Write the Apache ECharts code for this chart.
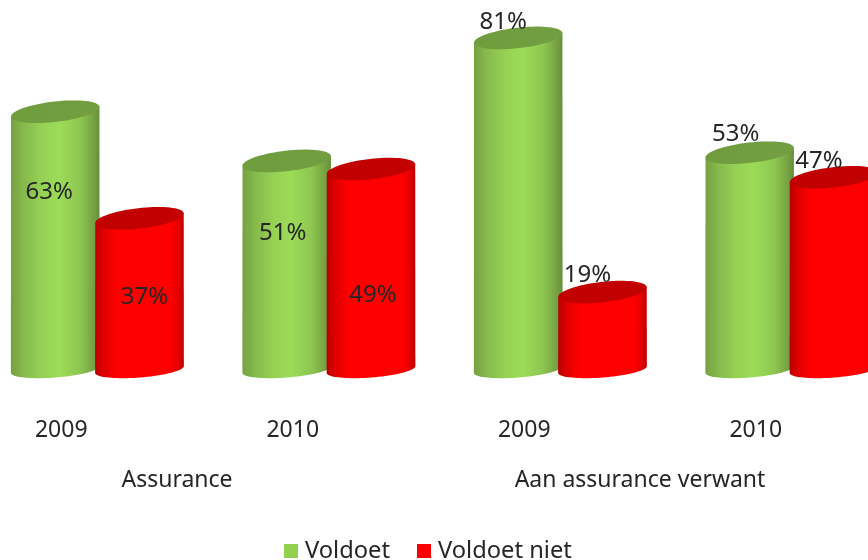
<!DOCTYPE html>
<html>
<head>
<meta charset="utf-8">
<style>html,body{margin:0;padding:0;background:#fff}#c{width:868px;height:560px}</style>
<script src="https://cdn.jsdelivr.net/npm/echarts@6/dist/echarts.min.js"></script>
</head>
<body>
<div id="c"></div>
<script>
const years = ['2009', '2010', '2009', '2010'];
const groups = ['Assurance', 'Aan assurance verwant'];
const voldoet = [63, 51, 81, 53];
const voldoetNiet = [37, 49, 19, 47];
const voldoetLabelShift = [[-6, 80], [-4, 72], [-15, -16], [-14, -19]];
const voldoetNietLabelShift = [[5, 79], [2, 126], [-15, -17], [-15, -16]];

const FONT = '"Noto Sans", sans-serif';
const TEXT = '#262626';
const RX = 44.5, TOP_RY = 10.2, BOT_RY = 8;
const TOP_TILT = 6.5 * Math.PI / 180, BOT_TILT = 4.5 * Math.PI / 180;

function ellipsePoint(cx, cy, ry, tilt, t) {
  const ex = RX * Math.cos(t), ey = ry * Math.sin(t);
  return [cx + ex * Math.cos(tilt) + ey * Math.sin(tilt),
          cy - ex * Math.sin(tilt) + ey * Math.cos(tilt)];
}
function arc(cx, cy, ry, tilt, from, to, n) {
  const out = [];
  for (let i = 0; i <= n; i++) out.push(ellipsePoint(cx, cy, ry, tilt, from + (to - from) * i / n));
  return out;
}
function cylinder(palette, shifts) {
  return function (params, api) {
    const idx = api.value(0), val = api.value(1);
    const c = api.coord([idx, val]);
    const base = api.coord([idx, 0]);
    const catW = api.size([1, 0])[0];
    const x = c[0] + catW * palette.slot;
    const topY = c[1], botY = base[1] - 0.5;
    const body = [].concat(
      [ellipsePoint(x, topY, TOP_RY, TOP_TILT, Math.PI)],
      arc(x, botY, BOT_RY, BOT_TILT, Math.PI, 0, 40),
      [ellipsePoint(x, topY, TOP_RY, TOP_TILT, 0)]
    );
    const top = arc(x, topY, TOP_RY, TOP_TILT, 0, Math.PI * 2, 72);
    const s = shifts[params.dataIndex];
    return {
      type: 'group',
      children: [
        { type: 'polygon', shape: { points: body }, style: { fill: {
            type: 'linear', x: 0, y: 0, x2: 1, y2: 0,
            colorStops: palette.stops } } },
        { type: 'polygon', shape: { points: top }, style: { fill: {
            type: 'linear', x: 0, y: 0, x2: 1, y2: 1,
            colorStops: palette.topStops } } },
        { type: 'text', z2: 10, style: {
            text: val + '%', x: x + s[0], y: topY + s[1],
            align: 'center', verticalAlign: 'middle',
            font: '24px ' + FONT, fill: TEXT } }
      ]
    };
  };
}
const greenPalette = {
  slot: -0.026,
  stops: [{ offset: 0, color: '#76a142' }, { offset: 0.14, color: '#86b94c' }, { offset: 0.35, color: '#96d155' },
          { offset: 0.55, color: '#9cdc59' }, { offset: 0.78, color: '#8ec650' }, { offset: 0.93, color: '#76a243' }, { offset: 1, color: '#668f3a' }],
  topStops: [{ offset: 0, color: '#6f9c3d' }, { offset: 1, color: '#739f42' }]
};
const redPalette = {
  slot: 0.338,
  stops: [{ offset: 0, color: '#b80000' }, { offset: 0.1, color: '#e00000' }, { offset: 0.25, color: '#ff0000' },
          { offset: 0.85, color: '#ff0000' }, { offset: 0.95, color: '#e00000' }, { offset: 1, color: '#bc0000' }],
  topStops: [{ offset: 0, color: '#c00000' }, { offset: 1, color: '#c40000' }]
};
const chart = echarts.init(document.getElementById('c'), null, { renderer: 'canvas' });
chart.setOption({
  animation: false,
  backgroundColor: '#fff',
  grid: { left: -54.5, width: 926, top: -40, height: 410, containLabel: false, outerBoundsMode: 'none' },
  legend: {
    left: 279, top: 534, itemWidth: 14, itemHeight: 14, itemGap: 27, icon: 'rect',
    textStyle: { fontFamily: FONT, fontSize: 23.7, color: TEXT, padding: [0, 0, 0, 2] },
    data: [{ name: 'Voldoet', itemStyle: { color: '#92d050' } },
           { name: 'Voldoet niet', itemStyle: { color: '#ff0000' } }]
  },
  xAxis: [
    { type: 'category', data: years, position: 'bottom',
      axisLine: { show: false }, axisTick: { show: false }, splitLine: { show: false },
      axisLabel: { margin: 49, fontFamily: FONT, fontSize: 23, color: TEXT, interval: 0 } },
    { type: 'category', data: groups, position: 'bottom',
      axisLine: { show: false }, axisTick: { show: false }, splitLine: { show: false },
      axisLabel: { margin: 99, fontFamily: FONT, fontSize: 23, color: TEXT, interval: 0 } }
  ],
  yAxis: { type: 'value', min: 0, max: 100, show: false },
  series: [
    { name: 'Voldoet', type: 'custom', clip: false, xAxisIndex: 0, encode: { x: 0, y: 1 },
      itemStyle: { color: '#92d050' },
      renderItem: cylinder(greenPalette, voldoetLabelShift),
      data: voldoet.map((v, i) => [i, v]) },
    { name: 'Voldoet niet', type: 'custom', clip: false, xAxisIndex: 0, encode: { x: 0, y: 1 },
      itemStyle: { color: '#ff0000' },
      renderItem: cylinder(redPalette, voldoetNietLabelShift),
      data: voldoetNiet.map((v, i) => [i, v]) }
  ]
});
</script>
</body>
</html>
